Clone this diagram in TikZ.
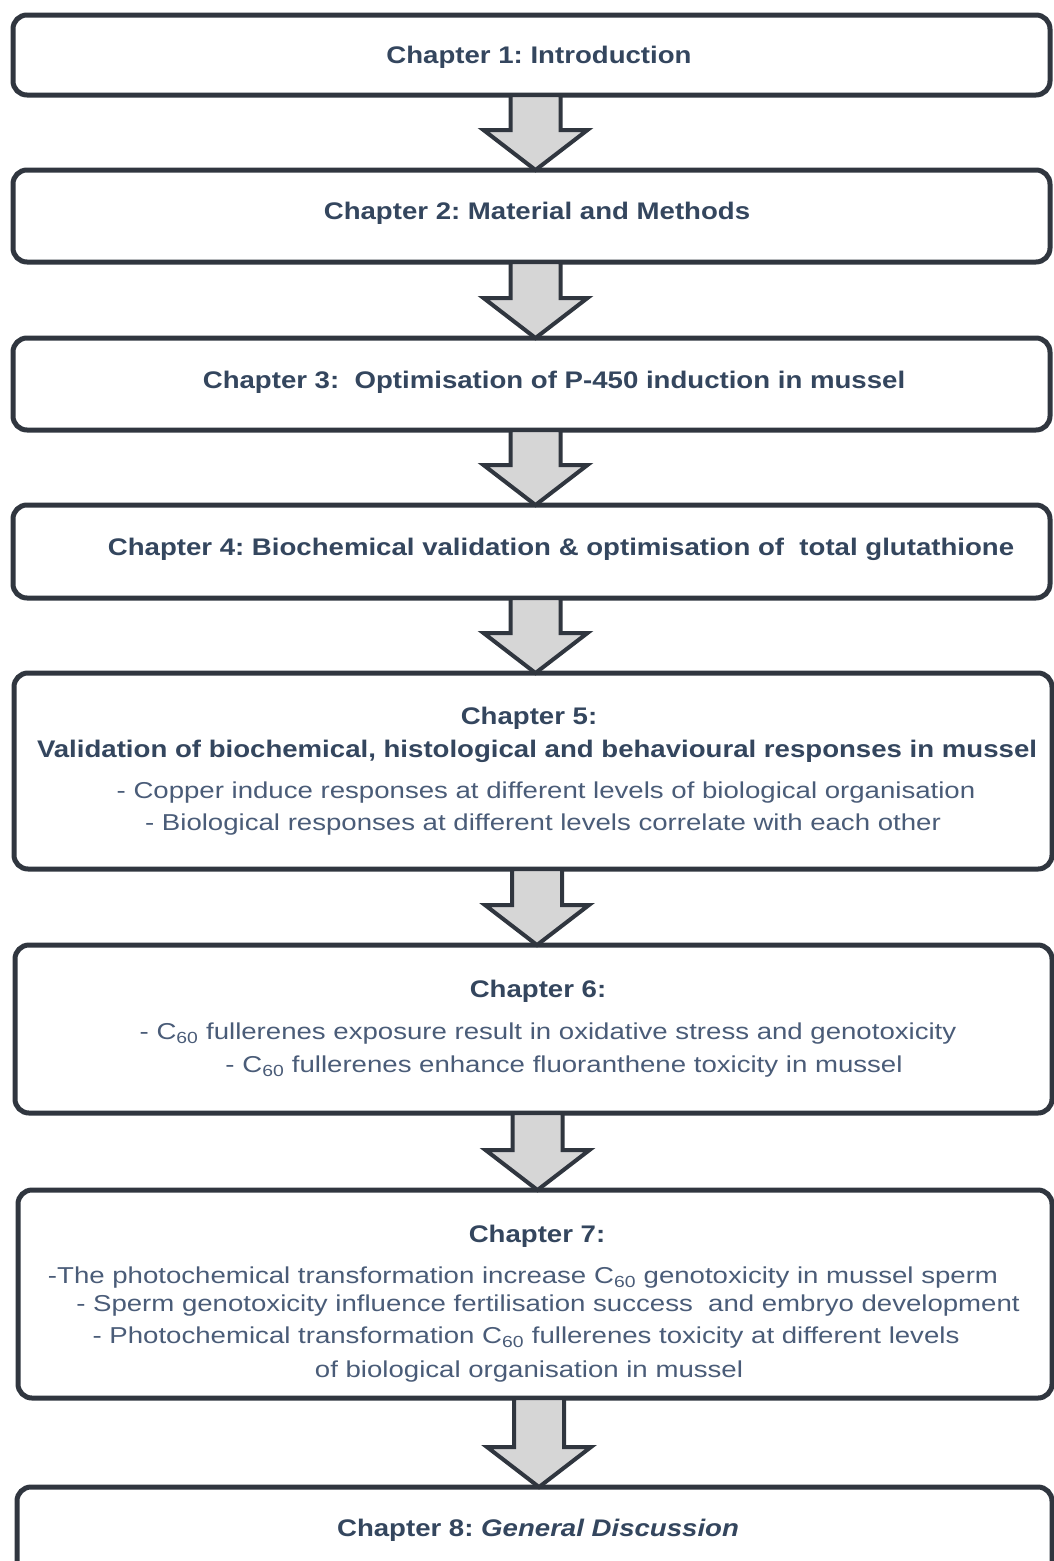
\documentclass[tikz,border=0pt]{standalone}
\usepackage{fontspec}
\setmainfont{Liberation Sans}
\newfontfamily\hdfont[FakeStretch=1.15]{Liberation Sans}
\newfontfamily\bdfont[FakeStretch=1.2]{Liberation Sans}
\usetikzlibrary{calc}
\definecolor{headc}{HTML}{34465E}
\definecolor{bodyc}{HTML}{4A5C78}
\definecolor{edgec}{HTML}{30363F}
\definecolor{afill}{HTML}{D6D6D6}
\newcommand\blockarrow[2]{%
  \draw[barrowstyle] let \p1=($(#1.south)+(4,0)$), \p2=(#2.north) in
    (\x1-25pt,\y1) -- (\x1-25pt,\y2+40pt) -- (\x1-52pt,\y2+40pt) -- (\x1,\y2)
    -- (\x1+52pt,\y2+40pt) -- (\x1+25pt,\y2+40pt) -- (\x1+25pt,\y1) -- cycle;}
\frenchspacing
\begin{document}
\begin{tikzpicture}[x=1pt,y=-1pt,
  chbox/.style={draw=edgec, line width=5pt, rounded corners=14pt, fill=white, inner sep=0pt, outer sep=0pt},
  barrowstyle/.style={draw=edgec, line width=4pt, fill=afill, line join=miter},
  hd/.style={font=\hdfont\bfseries\fontsize{24}{28}\selectfont, text=headc, inner sep=0pt},
  bd/.style={font=\bdfont\fontsize{23}{27}\selectfont, text=bodyc, inner sep=0pt}]
\useasboundingbox (0,0) rectangle (1054,1561);
% boxes
\node[chbox, minimum width=1037pt, minimum height=80pt] (b1) at (531.5,55) {};
\node[chbox, minimum width=1037pt, minimum height=92pt] (b2) at (531.5,216) {};
\node[chbox, minimum width=1037pt, minimum height=92pt] (b3) at (531.5,384) {};
\node[chbox, minimum width=1037pt, minimum height=93pt] (b4) at (531.5,551.5) {};
\node[chbox, minimum width=1038pt, minimum height=196pt] (b5) at (533,771) {};
\node[chbox, minimum width=1037pt, minimum height=168pt] (b6) at (533.5,1029) {};
\node[chbox, minimum width=1034pt, minimum height=208pt] (b7) at (535,1294) {};
\node[chbox, minimum width=1035pt, minimum height=120pt] (b8) at (534.5,1547) {};
% arrows
\blockarrow{b1}{b2}
\blockarrow{b2}{b3}
\blockarrow{b3}{b4}
\blockarrow{b4}{b5}
\blockarrow{b5}{b6}
\blockarrow{b6}{b7}
\blockarrow{b7}{b8}
% texts
\node[hd] (t1) at (539,57) {Chapter 1: Introduction};
\node[hd] (t2) at (537,213) {Chapter 2: Material and Methods};
\node[hd] (t3) at (554,382) {Chapter 3:\ \ Optimisation of P-450 induction in mussel};
\node[hd] (t4) at (561,549) {Chapter 4: Biochemical validation \& optimisation of\ \ total glutathione};
\node[hd] (t5a) at (529,718) {Chapter 5:};
\node[hd] (t5b) at (537,751) {Validation of biochemical, histological and behavioural responses in mussel};
\node[bd] (t5c) at (546,793) {- Copper induce responses at different levels of biological organisation};
\node[bd] (t5d) at (543,825) {- Biological responses\ at different levels correlate with each other};
\node[hd] (t6a) at (538,991) {Chapter 6:};
\node[bd] (t6b) at (548,1034) {- C\textsubscript{60} fullerenes exposure result in oxidative stress and genotoxicity};
\node[bd] (t6c) at (564,1067) {- C\textsubscript{60} fullerenes enhance fluoranthene\ toxicity in mussel};
\node[hd] (t7a) at (537,1236) {Chapter 7:};
\node[bd] (t7b) at (523,1278) {-The photochemical transformation increase C\textsubscript{60} genotoxicity in mussel sperm};
\node[bd] (t7c) at (548,1306) {- Sperm genotoxicity influence fertilisation success\ \ and embryo development};
\node[bd] (t7d) at (526,1338) {- Photochemical transformation C\textsubscript{60} fullerenes toxicity at different levels};
\node[bd] (t7e) at (529,1372) {of biological organisation\ in mussel};
\node[hd] (t8) at (538,1530) {Chapter 8: \textit{General Discussion}};
\end{tikzpicture}
\end{document}
